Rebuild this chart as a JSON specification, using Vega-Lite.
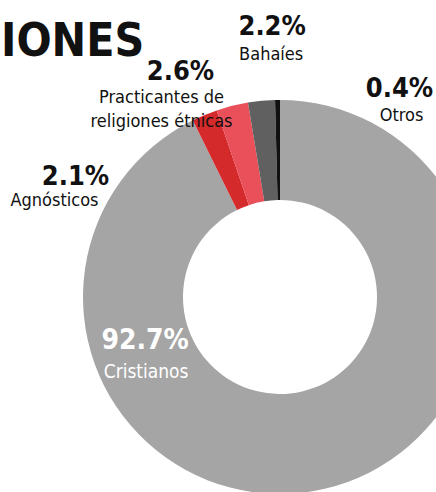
{
  "$schema": "https://vega.github.io/schema/vega-lite/v6.json",
  "width": 436,
  "height": 492,
  "autosize": {"type": "none"},
  "padding": 0,
  "background": "white",
  "view": {"stroke": null},
  "title": {
    "text": "IONES",
    "anchor": "start",
    "frame": "group",
    "font": "DejaVu Sans Condensed, sans-serif",
    "fontSize": 46,
    "fontWeight": "bold",
    "color": "#111111",
    "baseline": "alphabetic",
    "offset": -55,
    "dy": 47,
    "dx": 1
  },
  "data": {
    "values": [
      {"religion": "Cristianos", "pct": 92.7, "ord": 1, "pctLabel": "92.7%", "name": "Cristianos"},
      {"religion": "Agnósticos", "pct": 2.1, "ord": 2, "pctLabel": "2.1%", "name": "Agnósticos"},
      {"religion": "Practicantes de religiones étnicas", "pct": 2.6, "ord": 3, "pctLabel": "2.6%", "name": ["Practicantes de", "religiones étnicas"]},
      {"religion": "Bahaíes", "pct": 2.2, "ord": 4, "pctLabel": "2.2%", "name": "Bahaíes"},
      {"religion": "Otros", "pct": 0.4, "ord": 5, "pctLabel": "0.4%", "name": "Otros"}
    ]
  },
  "encoding": {
    "theta": {"field": "pct", "type": "quantitative", "stack": true},
    "order": {"field": "ord", "type": "quantitative"}
  },
  "layer": [
    {
      "mark": {"type": "arc", "innerRadius": 97, "outerRadius": 197, "x": 280, "y": 297},
      "encoding": {
        "color": {
          "field": "religion",
          "type": "nominal",
          "legend": null,
          "scale": {
            "domain": ["Cristianos", "Agnósticos", "Practicantes de religiones étnicas", "Bahaíes", "Otros"],
            "range": ["#a5a5a5", "#d42a2b", "#e9505a", "#606060", "#111111"]
          }
        }
      }
    },
    {
      "mark": {"type": "text", "radius": 200, "x": 280, "y": 297, "font": "DejaVu Sans Condensed, sans-serif", "fontSize": 27, "fontWeight": "bold", "align": "center", "baseline": "alphabetic", "color": "#111111",
        "dx": {"expr": "datum.ord === 2 ? -128 : datum.ord === 3 ? -51 : datum.ord === 4 ? 11 : 122"},
        "dy": {"expr": "datum.ord === 2 ? 73 : datum.ord === 3 ? -23 : datum.ord === 4 ? -63 : 0"}
      },
      "encoding": {"text": {"condition": {"test": "datum.ord !== 1", "field": "pctLabel"}, "value": ""}}
    },
    {
      "mark": {"type": "text", "radius": 200, "x": 280, "y": 297, "font": "DejaVu Sans Condensed, sans-serif", "fontSize": 18, "align": "center", "baseline": "alphabetic", "lineHeight": 24, "color": "#111111",
        "dx": {"expr": "datum.ord === 2 ? -149 : datum.ord === 3 ? -70 : datum.ord === 4 ? 10 : 124"},
        "dy": {"expr": "datum.ord === 2 ? 94 : datum.ord === 3 ? 0 : datum.ord === 4 ? -38 : 24"}
      },
      "encoding": {"text": {"condition": {"test": "datum.ord !== 1", "field": "name"}, "value": ""}}
    },
    {
      "mark": {"type": "text", "radius": 150, "x": 280, "y": 297, "font": "DejaVu Sans Condensed, sans-serif", "fontSize": 28, "fontWeight": "bold", "align": "center", "baseline": "alphabetic", "color": "white", "dx": -169, "dy": -94},
      "encoding": {"text": {"condition": {"test": "datum.ord === 1", "field": "pctLabel"}, "value": ""}}
    },
    {
      "mark": {"type": "text", "radius": 150, "x": 280, "y": 297, "font": "DejaVu Sans Condensed, sans-serif", "fontSize": 19, "align": "center", "baseline": "alphabetic", "color": "white", "dx": -168, "dy": -65},
      "encoding": {"text": {"condition": {"test": "datum.ord === 1", "field": "name"}, "value": ""}}
    }
  ]
}
